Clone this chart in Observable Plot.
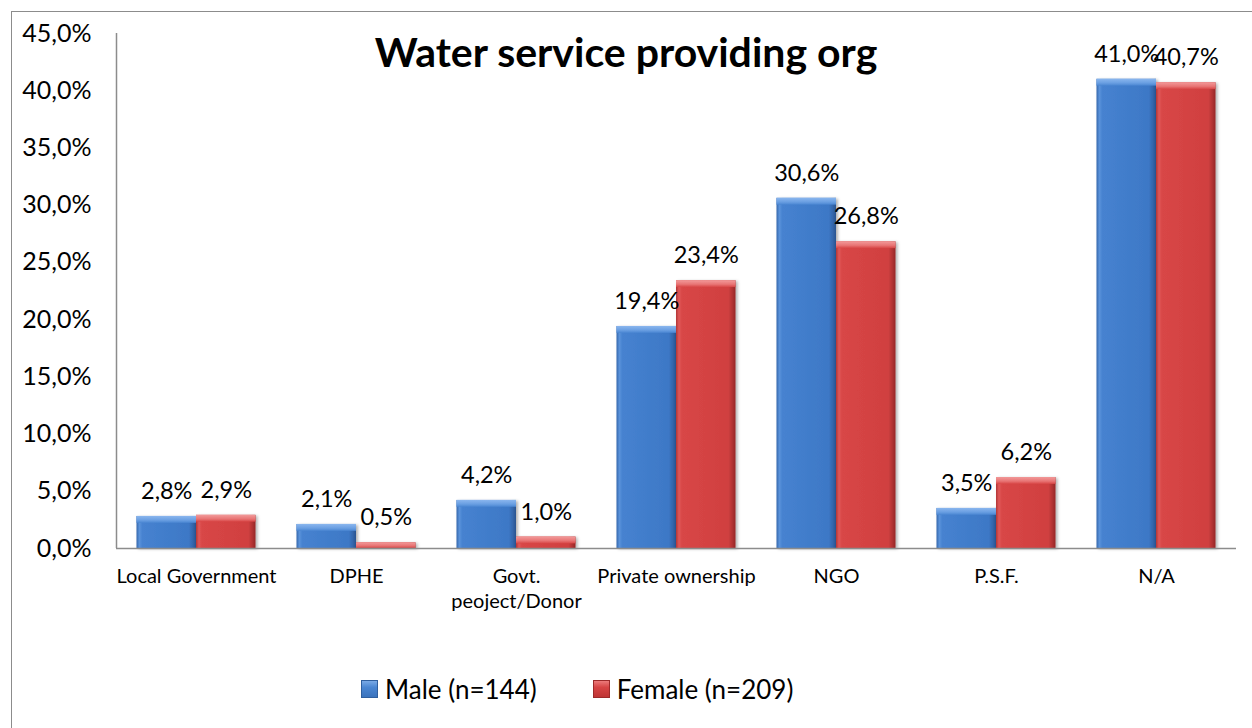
<!DOCTYPE html>
<html>
<head>
<meta charset="utf-8">
<script src="https://cdn.jsdelivr.net/npm/d3@7"></script>
<script src="https://cdn.jsdelivr.net/npm/@observablehq/plot@0.6"></script>
<style>
  html, body { margin: 0; padding: 0; background: #fff; }
  #chart { position: relative; width: 1252px; height: 728px; overflow: hidden; background: #fff;
           font-family: Lato, "Open Sans", sans-serif; color: #000; }
  #frame { position: absolute; left: 11px; top: 11px; width: 1400px; height: 900px;
           border: 1.5px solid #8c8c8c; pointer-events: none; }
  #plot { position: absolute; left: 0; top: 0; }
  #title { position: absolute; left: 0; top: 27px; width: 1252px; text-align: center;
           font-weight: 700; font-size: 41px; line-height: 50px; }
  #legend { position: absolute; left: 361px; top: 672px; display: flex; align-items: center;
            font-size: 26px; line-height: 34px; }
  .item { display: flex; align-items: center; margin-right: 56px; }
  .swatch { width: 17px; height: 18px; margin-right: 7px; box-sizing: border-box; }
  .swatch.male { background: linear-gradient(180deg, #7aaae6 0%, #4a86d2 40%, #3a73bd 100%);
                 border: 1px solid #2f5f9e; }
  .swatch.female { background: linear-gradient(180deg, #ec7a7a 0%, #d64444 40%, #bf3535 100%);
                   border: 1px solid #9c2a2a; }
</style>
</head>
<body>
<div id="chart">
  <div id="frame"></div>
  <div id="plot"></div>
  <div id="title">Water service providing org</div>
  <div id="legend"></div>
</div>
<script>
// Categories of the organisation providing water, with their axis labels
const categories = ["Local Government", "DPHE", "Govt. peoject/Donor", "Private ownership", "NGO", "P.S.F.", "N/A"];
const categoryLabels = ["Local Government", "DPHE", "Govt.\npeoject/Donor", "Private ownership", "NGO", "P.S.F.", "N/A"];

// Share of respondents (%) per category
const maleValues = [2.8, 2.1, 4.2, 19.4, 30.6, 3.5, 41.0];
const femaleValues = [2.9, 0.5, 1.0, 23.4, 26.8, 6.2, 40.7];

const seriesNames = ["Male (n=144)", "Female (n=209)"];
const yTicks = [0, 5, 10, 15, 20, 25, 30, 35, 40, 45];

// Group layout inside each category slot (fractions of one slot)
const groupPad = 0.128;
const barW = (1 - 2 * groupPad) / 2;

const rows = [];
categories.forEach((c, i) => {
  rows.push({category: c, index: i, slot: 0, series: seriesNames[0], value: maleValues[i]});
  rows.push({category: c, index: i, slot: 1, series: seriesNames[1], value: femaleValues[i]});
});
const male = rows.filter(d => d.slot === 0);
const female = rows.filter(d => d.slot === 1);

const x1 = d => d.index + groupPad + d.slot * barW;
const x2 = d => d.index + groupPad + (d.slot + 1) * barW;
const xc = d => d.index + groupPad + (d.slot + 0.5) * barW;
const pct = v => v.toFixed(1).replace(".", ",") + "%";
const bevelTop = d => Math.max(0, d.value - 0.6);

const barMarks = (data, body, top) => [
  Plot.rectY(data, {x1, x2, y1: 0, y2: "value", fill: body}),
  Plot.rectY(data, {x1, x2, y1: bevelTop, y2: "value", fill: top})
];

const plot = Plot.plot({
  width: 1252,
  height: 640,
  marginLeft: 116,
  marginRight: 16,
  marginTop: 33,
  marginBottom: 92,
  style: {fontFamily: "Lato, 'Open Sans', sans-serif", color: "#000", background: "transparent"},
  x: {domain: [0, categories.length], axis: null},
  y: {domain: [0, 45], label: null},
  marks: [
    Plot.axisY({ticks: yTicks, tickSize: 0, tickPadding: 25, tickFormat: pct, fontSize: 25, fill: "#000", label: null}),
    Plot.ruleX([0], {y1: 0, y2: 45, stroke: "#8c8c8c", strokeWidth: 1.5}),
    ...barMarks(male, "url(#maleBody)", "url(#maleTop)"),
    ...barMarks(female, "url(#femaleBody)", "url(#femaleTop)"),
    Plot.ruleY([0], {stroke: "#8c8c8c", strokeWidth: 1.5}),
    Plot.text(rows, {x: xc, y: "value", text: d => pct(d.value), dy: -25, fontSize: 23.5, fill: "#000"}),
    Plot.text(categoryLabels, {x: (d, i) => i + 0.5, y: 0, dy: 17, lineAnchor: "top",
      lineHeight: 1.25, fontSize: 20, fill: "#000"})
  ]
});

// Gradients giving the bars their bevelled, shaded look
const svg = d3.select(plot);
const defs = svg.insert("defs", ":first-child");
function hGrad(id, stops) {
  const g = defs.append("linearGradient").attr("id", id).attr("x1", 0).attr("x2", 1).attr("y1", 0).attr("y2", 0);
  stops.forEach(([o, c]) => g.append("stop").attr("offset", o).attr("stop-color", c));
}
function vGrad(id, stops) {
  const g = defs.append("linearGradient").attr("id", id).attr("x1", 0).attr("x2", 0).attr("y1", 0).attr("y2", 1);
  stops.forEach(([o, c]) => g.append("stop").attr("offset", o).attr("stop-color", c));
}
hGrad("maleBody", [[0, "#3568ad"], [0.05, "#5a92da"], [0.1, "#4682d0"], [0.88, "#3d78c6"], [0.94, "#3468ae"], [1, "#2a5490"]]);
vGrad("maleTop", [[0, "#8ab6ee"], [0.6, "#6a9fe2"], [1, "#4a86d2"]]);
hGrad("femaleBody", [[0, "#b23434"], [0.05, "#e05858"], [0.1, "#d84646"], [0.88, "#d04040"], [0.94, "#b43434"], [1, "#962626"]]);
vGrad("femaleTop", [[0, "#f29a9a"], [0.6, "#e87474"], [1, "#d84646"]]);
const shadow = defs.append("filter").attr("id", "barShadow").attr("x", "-10%").attr("y", "-10%").attr("width", "130%").attr("height", "120%");
shadow.append("feDropShadow").attr("dx", 2).attr("dy", 1).attr("stdDeviation", 1.5).attr("flood-color", "#000").attr("flood-opacity", 0.3);
svg.selectAll("g[aria-label='rect']").filter((d, i) => i % 2 === 0).attr("filter", "url(#barShadow)");

document.getElementById("plot").appendChild(plot);

// Legend
const legend = d3.select("#legend");
seriesNames.forEach((name, i) => {
  const item = legend.append("div").attr("class", "item");
  item.append("div").attr("class", "swatch " + (i === 0 ? "male" : "female"));
  item.append("span").text(name);
});
</script>
</body>
</html>
